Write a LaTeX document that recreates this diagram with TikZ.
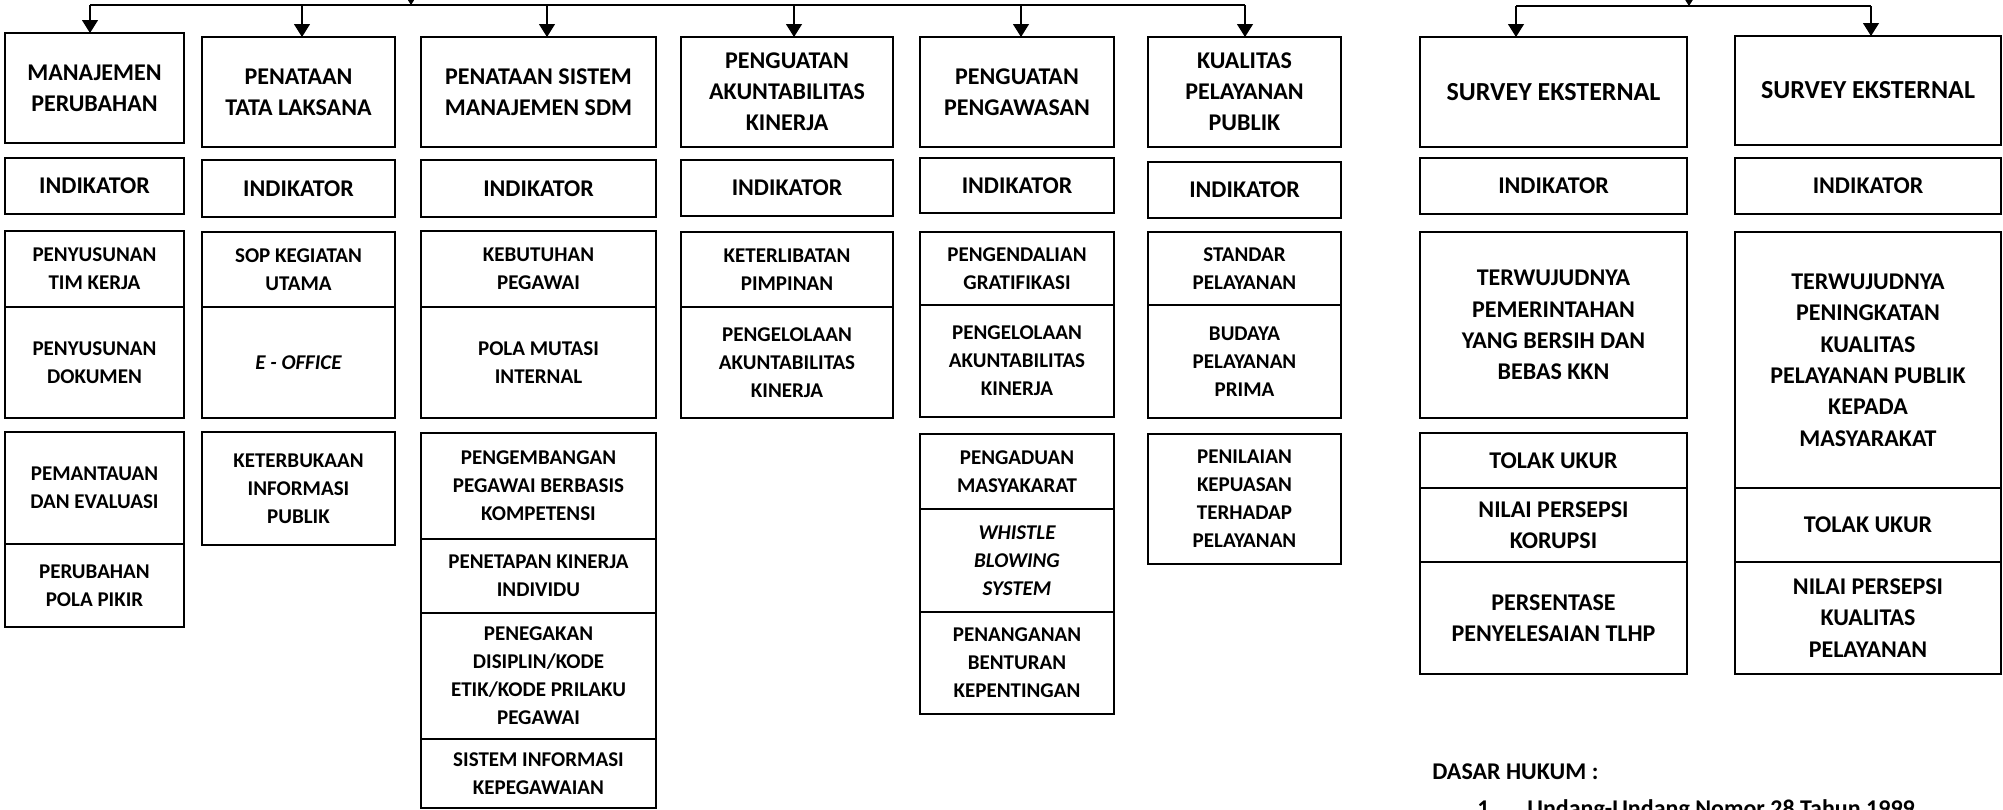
\documentclass[tikz,border=0pt]{standalone}
\usepackage{fontspec}
\setmainfont{Carlito}
\usetikzlibrary{arrows.meta,positioning}

\tikzset{
  box/.style={draw, line width=1.3pt, outer sep=0pt, inner sep=1pt, align=center},
  head/.style={box, font=\bfseries\fontsize{12}{15.5}\selectfont},
  ind/.style={box, font=\bfseries\fontsize{12}{14}\selectfont},
  item/.style={box, font=\bfseries\fontsize{10.5}{14}\selectfont},
  itemit/.style={box, font=\bfseries\itshape\fontsize{10.5}{14}\selectfont},
  itemr/.style={box, font=\bfseries\fontsize{12}{15.7}\selectfont},
  link/.style={line width=0.6pt},
  arr/.style={link, -{Triangle[length=6.5pt,width=8pt]}},
  c1/.style={minimum width=89.5pt},
  c2/.style={minimum width=96.5pt},
  c3/.style={minimum width=117.5pt},
  c4/.style={minimum width=106pt},
  c5/.style={minimum width=97pt},
  c6/.style={minimum width=96.5pt},
  s1/.style={minimum width=133.5pt},
  s2/.style={minimum width=133pt},
}

\begin{document}
\begin{tikzpicture}[x=0.5pt,y=-0.5pt]
\useasboundingbox (0,0) rectangle (2003,809);

% manajemen perubahan
\node[head, c1, minimum height=55pt, anchor=north west] (mp) at (5,33) {MANAJEMEN\\PERUBAHAN};
\node[ind, c1, minimum height=28pt, below=7.5pt of mp] (mpi) {INDIKATOR};
\node[item, c1, minimum height=38pt, below=8.5pt of mpi] (mp1) {PENYUSUNAN\\TIM KERJA};
\node[item, c1, minimum height=55.5pt, below=0pt of mp1] (mp2) {PENYUSUNAN\\DOKUMEN};
\node[item, c1, minimum height=56pt, below=7pt of mp2] (mp3) {PEMANTAUAN\\DAN EVALUASI};
\node[item, c1, minimum height=41.5pt, below=0pt of mp3] (mp4) {PERUBAHAN\\POLA PIKIR};

% penataan tata laksana
\node[head, c2, minimum height=55pt, anchor=north west] (tl) at (202,37) {PENATAAN\\TATA LAKSANA};
\node[ind, c2, minimum height=28.5pt, below=6.5pt of tl] (tli) {INDIKATOR};
\node[item, c2, minimum height=37.5pt, below=7.5pt of tli] (tl1) {SOP KEGIATAN\\UTAMA};
\node[itemit, c2, minimum height=55.5pt, below=0pt of tl1] (tl2) {E - OFFICE};
\node[item, c2, minimum height=56.5pt, below=7pt of tl2] (tl3) {KETERBUKAAN\\INFORMASI\\PUBLIK};

% penataan sistem manajemen sdm
\node[head, c3, minimum height=55pt, anchor=north west] (sdm) at (421,37) {PENATAAN SISTEM\\MANAJEMEN SDM};
\node[ind, c3, minimum height=28.5pt, below=6.5pt of sdm] (sdmi) {INDIKATOR};
\node[item, c3, minimum height=38pt, below=7pt of sdmi] (sdm1) {KEBUTUHAN\\PEGAWAI};
\node[item, c3, minimum height=55.5pt, below=0pt of sdm1] (sdm2) {POLA MUTASI\\INTERNAL};
\node[item, c3, minimum height=53pt, below=7.5pt of sdm2] (sdm3) {PENGEMBANGAN\\PEGAWAI BERBASIS\\KOMPETENSI};
\node[item, c3, minimum height=37pt, below=0pt of sdm3] (sdm4) {PENETAPAN KINERJA\\INDIVIDU};
\node[item, c3, minimum height=63pt, below=0pt of sdm4] (sdm5) {PENEGAKAN\\DISIPLIN/KODE\\ETIK/KODE PRILAKU\\PEGAWAI};
\node[item, c3, minimum height=34.5pt, below=0pt of sdm5] (sdm6) {SISTEM INFORMASI\\KEPEGAWAIAN};

% penguatan akuntabilitas kinerja
\node[head, c4, minimum height=55pt, anchor=north west] (ak) at (681,37) {PENGUATAN\\AKUNTABILITAS\\KINERJA};
\node[ind, c4, minimum height=28pt, below=6.5pt of ak] (aki) {INDIKATOR};
\node[item, c4, minimum height=37.5pt, below=8pt of aki] (ak1) {KETERLIBATAN\\PIMPINAN};
\node[item, c4, minimum height=55.5pt, below=0pt of ak1] (ak2) {PENGELOLAAN\\AKUNTABILITAS\\KINERJA};

% penguatan pengawasan
\node[head, c5, minimum height=55pt, anchor=north west] (pw) at (920,37) {PENGUATAN\\PENGAWASAN};
\node[ind, c5, minimum height=27.5pt, below=5.5pt of pw] (pwi) {INDIKATOR};
\node[item, c5, minimum height=36.5pt, below=9.5pt of pwi] (pw1) {PENGENDALIAN\\GRATIFIKASI};
\node[item, c5, minimum height=56pt, below=0pt of pw1] (pw2) {PENGELOLAAN\\AKUNTABILITAS\\KINERJA};
\node[item, c5, minimum height=37.5pt, below=8.5pt of pw2] (pw3) {PENGADUAN\\MASYAKARAT};
\node[itemit, c5, minimum height=51.5pt, below=0pt of pw3] (pw4) {WHISTLE\\BLOWING\\SYSTEM};
\node[item, c5, minimum height=51pt, below=0pt of pw4] (pw5) {PENANGANAN\\BENTURAN\\KEPENTINGAN};

% kualitas pelayanan publik
\node[head, c6, minimum height=55pt, anchor=north west] (pl) at (1148,37) {KUALITAS\\PELAYANAN\\PUBLIK};
\node[ind, c6, minimum height=28pt, below=7.5pt of pl] (pli) {INDIKATOR};
\node[item, c6, minimum height=36.5pt, below=7pt of pli] (pl1) {STANDAR\\PELAYANAN};
\node[item, c6, minimum height=56.5pt, below=0pt of pl1] (pl2) {BUDAYA\\PELAYANAN\\PRIMA};
\node[item, c6, minimum height=65pt, below=8pt of pl2] (pl3) {PENILAIAN\\KEPUASAN\\TERHADAP\\PELAYANAN};

% survey eksternal
\node[ind, s1, minimum height=55pt, font=\bfseries\fontsize{13}{15}\selectfont, anchor=north west] (sa) at (1420,37) {SURVEY EKSTERNAL};
\node[ind, s1, minimum height=28pt, below=5.5pt of sa] (sai) {INDIKATOR};
\node[itemr, s1, minimum height=93pt, below=9pt of sai] (sa1) {TERWUJUDNYA\\PEMERINTAHAN\\YANG BERSIH DAN\\BEBAS KKN};
\node[ind, s1, minimum height=27.5pt, below=7.5pt of sa1] (sa2) {TOLAK UKUR};
\node[itemr, s1, minimum height=37pt, below=0pt of sa2] (sa3) {NILAI PERSEPSI\\KORUPSI};
\node[itemr, s1, minimum height=56pt, below=0pt of sa3] (sa4) {PERSENTASE\\PENYELESAIAN TLHP};

\node[ind, s2, minimum height=54.5pt, font=\bfseries\fontsize{13}{15}\selectfont, anchor=north west] (sb) at (1735,36) {SURVEY EKSTERNAL};
\node[ind, s2, minimum height=28pt, below=6.5pt of sb] (sbi) {INDIKATOR};
\node[itemr, s2, minimum height=128pt, below=9pt of sbi] (sb1) {TERWUJUDNYA\\PENINGKATAN\\KUALITAS\\PELAYANAN PUBLIK\\KEPADA\\MASYARAKAT};
\node[ind, s2, minimum height=37pt, below=0pt of sb1] (sb2) {TOLAK UKUR};
\node[itemr, s2, minimum height=56pt, below=0pt of sb2] (sb3) {NILAI PERSEPSI\\KUALITAS\\PELAYANAN};

% dasar hukum
\node[anchor=base west, inner sep=0pt, font=\bfseries\fontsize{12}{14}\selectfont] (dh) at (1432,779) {DASAR HUKUM :};
\node[anchor=base west, inner sep=0pt, font=\bfseries\fontsize{12}{14}\selectfont] (uu) at (1477,816) {\makebox[25pt][l]{1.}Undang-Undang Nomor 28 Tahun 1999};

% connectors
\coordinate (in1) at (411,-30);
\coordinate (t1) at (90,5);
\coordinate (t2) at (302,5);
\coordinate (t3) at (547,5);
\coordinate (t4) at (794,5);
\coordinate (t5) at (1021,5);
\coordinate (t6) at (1245,5);
\draw[link] (t1) -- (t6);
\draw[arr] (in1) -- (in1 |- t1);
\draw[arr] (t1) -- (t1 |- mp.north);
\draw[arr] (t2) -- (t2 |- tl.north);
\draw[arr] (t3) -- (t3 |- sdm.north);
\draw[arr] (t4) -- (t4 |- ak.north);
\draw[arr] (t5) -- (t5 |- pw.north);
\draw[arr] (t6) -- (t6 |- pl.north);

\coordinate (in2) at (1689,-30);
\coordinate (r1) at (1516,6);
\coordinate (r2) at (1871,6);
\draw[link] (r1) -- (r2);
\draw[arr] (in2) -- (in2 |- r1);
\draw[arr] (r1) -- (r1 |- sa.north);
\draw[arr] (r2) -- (r2 |- sb.north);
\end{tikzpicture}
\end{document}
